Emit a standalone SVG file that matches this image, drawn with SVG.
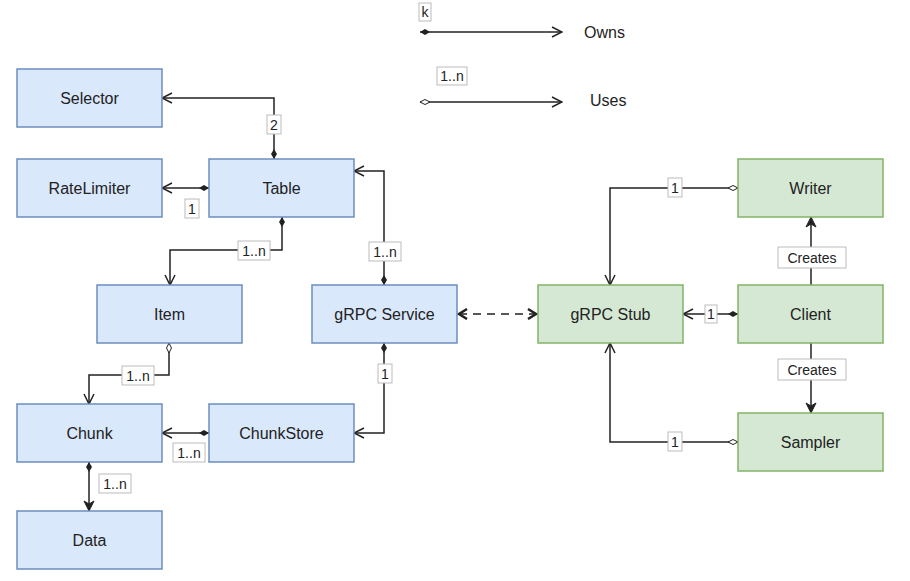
<svg xmlns="http://www.w3.org/2000/svg" width="910" height="581" viewBox="0 0 910 581">
<style>
.b rect{fill:#dae8fc;stroke:#6c8ebf;stroke-width:1.5}
.g rect{fill:#d5e8d4;stroke:#82b366;stroke-width:1.5}
.n text{font-family:"Liberation Sans",Arial,sans-serif;font-size:16px;fill:#222;text-anchor:middle;dominant-baseline:central}
.c path{fill:none;stroke:#222;stroke-width:1.5}
.lb rect{fill:#fff;stroke:#bbb;stroke-width:1}
.lb text{font-family:"Liberation Sans",Arial,sans-serif;font-size:14px;fill:#222;text-anchor:middle;dominant-baseline:central}
.t{font-family:"Liberation Sans",Arial,sans-serif;font-size:16px;fill:#222;dominant-baseline:central}
</style>
<defs>
<marker id="oa" viewBox="0 0 12 12" refX="11" refY="6" markerWidth="12" markerHeight="12" markerUnits="userSpaceOnUse" orient="auto"><path d="M1,1 L11,6 L1,11" fill="none" stroke="#222" stroke-width="1.5"/></marker>
<marker id="fa" viewBox="0 0 12 12" refX="11" refY="6" markerWidth="12" markerHeight="12" markerUnits="userSpaceOnUse" orient="auto"><path d="M1,1 L11,6 L1,11 L4,6z" fill="#222" stroke="#222"/></marker>
<marker id="fd" viewBox="0 0 12 8" refX="1" refY="4" markerWidth="12" markerHeight="8" markerUnits="userSpaceOnUse" orient="auto"><path d="M1,4 L6,1 L11,4 L6,7z" fill="#222"/></marker>
<marker id="od" viewBox="0 0 12 8" refX="1" refY="4" markerWidth="12" markerHeight="8" markerUnits="userSpaceOnUse" orient="auto"><path d="M1,4 L6,1.5 L11,4 L6,6.5z" fill="#fff" stroke="#222"/></marker>
<marker id="dah" viewBox="0 0 12 12" refX="10" refY="6" markerWidth="12" markerHeight="12" markerUnits="userSpaceOnUse" orient="auto"><path d="M2,1 L10,6 L2,11" fill="none" stroke="#222" stroke-width="2.5"/></marker>
<marker id="dat" viewBox="0 0 12 12" refX="2" refY="6" markerWidth="12" markerHeight="12" markerUnits="userSpaceOnUse" orient="auto"><path d="M10,1 L2,6 L10,11" fill="none" stroke="#222" stroke-width="2.5"/></marker>
</defs>
<g id="connectors" class="c">
<path d="M274,159 V98 H162" marker-start="url(#fd)" marker-end="url(#oa)"/>
<path d="M209,188 H162" marker-start="url(#fd)" marker-end="url(#oa)"/>
<path d="M282,217 V250 H170 V285" marker-start="url(#fd)" marker-end="url(#oa)"/>
<path d="M384,285 V171 H354" marker-start="url(#fd)" marker-end="url(#oa)"/>
<path d="M169,343 V375 H89 V404" marker-start="url(#od)" marker-end="url(#oa)"/>
<path d="M384,343 V433 H354" marker-start="url(#fd)" marker-end="url(#oa)"/>
<path d="M209,433 H162" marker-start="url(#fd)" marker-end="url(#oa)"/>
<path d="M89,462 V511" marker-start="url(#fd)" marker-end="url(#fa)"/>
<path d="M459,314 H536" stroke-width="2.5" stroke-dasharray="8,6" marker-start="url(#dat)" marker-end="url(#dah)"/>
<path d="M738,188 H610 V285" marker-start="url(#od)" marker-end="url(#oa)"/>
<path d="M738,314 H683" marker-start="url(#fd)" marker-end="url(#oa)"/>
<path d="M811,285 V217" marker-end="url(#fa)"/>
<path d="M811,343 V413" marker-end="url(#fa)"/>
<path d="M738,442 H610 V343" marker-start="url(#od)" marker-end="url(#oa)"/>
<path d="M420,32 H562" stroke="#555" stroke-width="2" marker-start="url(#fd)" marker-end="url(#oa)"/>
<path d="M420,102 H562" stroke="#555" stroke-width="2" marker-start="url(#od)" marker-end="url(#oa)"/>
</g>
<g id="labels" class="lb">
<rect x="267" y="115" width="14" height="19"/><text x="274" y="124.5">2</text>
<rect x="185" y="199" width="14" height="19"/><text x="192" y="208.5">1</text>
<rect x="238" y="241" width="32" height="19"/><text x="254" y="250.5">1..n</text>
<rect x="369" y="242" width="32" height="19"/><text x="385" y="251.5">1..n</text>
<rect x="122" y="366" width="32" height="19"/><text x="138" y="375.5">1..n</text>
<rect x="378" y="364" width="14" height="19"/><text x="385" y="373.5">1</text>
<rect x="173" y="443" width="32" height="19"/><text x="189" y="452.5">1..n</text>
<rect x="99" y="474" width="32" height="19"/><text x="115" y="483.5">1..n</text>
<rect x="668" y="178" width="14" height="19"/><text x="675" y="187.5">1</text>
<rect x="705" y="305" width="12" height="18"/><text x="711" y="314">1</text>
<rect x="668" y="432" width="14" height="19"/><text x="675" y="441.5">1</text>
<rect x="778" y="247" width="68" height="21"/><text x="812" y="257.5" font-size="16">Creates</text>
<rect x="778" y="359" width="68" height="21"/><text x="812" y="369.5" font-size="16">Creates</text>
<rect x="419" y="3" width="12" height="18"/><text x="425" y="12">k</text>
<rect x="437" y="67" width="30" height="18"/><text x="452" y="76">1..n</text>
</g>
<text class="t" x="584" y="32">Owns</text>
<text class="t" x="590" y="100">Uses</text>
<g id="selector" class="n b"><rect x="17" y="69" width="145" height="58"/><text x="89.5" y="98">Selector</text></g>
<g id="ratelimiter" class="n b"><rect x="17" y="159" width="145" height="58"/><text x="89.5" y="188">RateLimiter</text></g>
<g id="table" class="n b"><rect x="209" y="159" width="145" height="58"/><text x="281.5" y="188">Table</text></g>
<g id="item" class="n b"><rect x="97" y="285" width="145" height="58"/><text x="169.5" y="314">Item</text></g>
<g id="grpcservice" class="n b"><rect x="312" y="285" width="145" height="58"/><text x="384.5" y="314">gRPC Service</text></g>
<g id="chunk" class="n b"><rect x="17" y="404" width="145" height="58"/><text x="89.5" y="433">Chunk</text></g>
<g id="chunkstore" class="n b"><rect x="209" y="404" width="145" height="58"/><text x="281.5" y="433">ChunkStore</text></g>
<g id="data" class="n b"><rect x="17" y="511" width="145" height="58"/><text x="89.5" y="540">Data</text></g>
<g id="grpcstub" class="n g"><rect x="538" y="285" width="145" height="58"/><text x="610.5" y="314">gRPC Stub</text></g>
<g id="writer" class="n g"><rect x="738" y="159" width="145" height="58"/><text x="810.5" y="188">Writer</text></g>
<g id="client" class="n g"><rect x="738" y="285" width="145" height="58"/><text x="810.5" y="314">Client</text></g>
<g id="sampler" class="n g"><rect x="738" y="413" width="145" height="58"/><text x="810.5" y="442">Sampler</text></g>
</svg>
